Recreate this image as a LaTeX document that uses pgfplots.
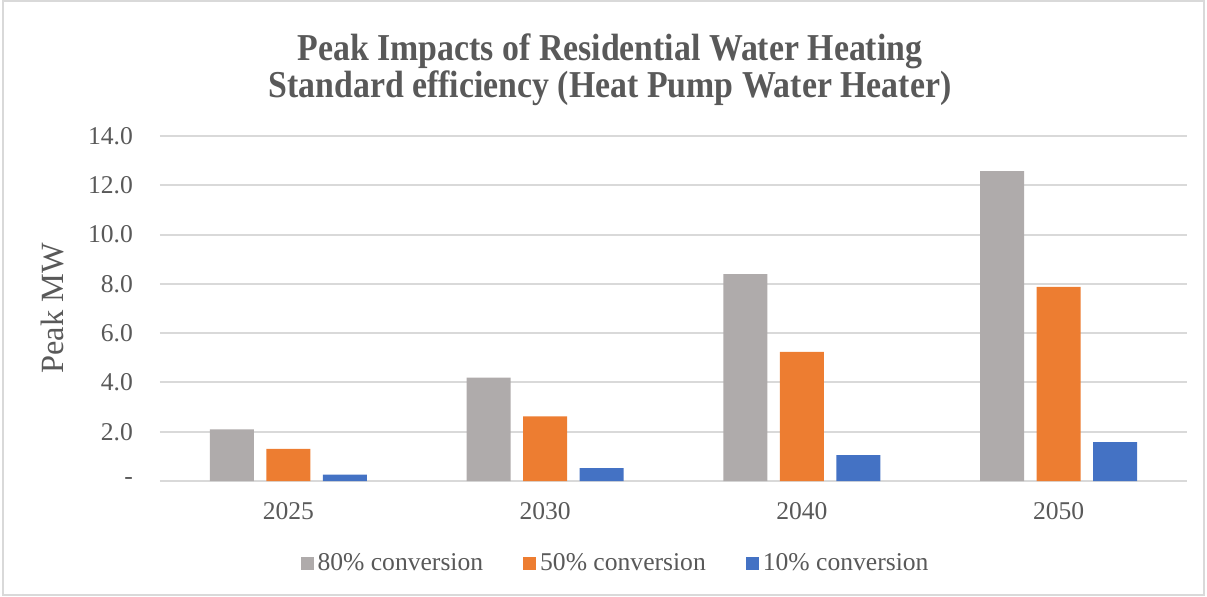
\documentclass[border=0pt]{standalone}
\usepackage{fontspec}
\setmainfont{Liberation Serif}
\newfontfamily\titlefont[FakeStretch=0.89]{Liberation Serif}
\usepackage{pgfplots}
\pgfplotsset{compat=1.18}

\definecolor{cgray}{HTML}{AFABAB}
\definecolor{corange}{HTML}{ED7D31}
\definecolor{cblue}{HTML}{4472C4}
\definecolor{ctext}{HTML}{595959}
\definecolor{cgrid}{HTML}{D9D9D9}

\begin{document}
\begin{tikzpicture}
\useasboundingbox (0pt,0pt) rectangle (603.5pt,298pt);
\draw[cgrid, line width=0.8pt] (1.5pt,0.5pt) rectangle (602pt,297.5pt);
\node[font=\titlefont\bfseries\fontsize{19}{18.5}\selectfont, text=ctext, align=center]
  at (305pt,263pt) {Peak Impacts of Residential Water Heating\\Standard efficiency (Heat Pump Water Heater)};

\begin{axis}[
    at={(80pt,57.5pt)}, anchor=south west,
    scale only axis,
    width=513.5pt, height=172.5pt,
    xmin=-0.5, xmax=3.5,
    ymin=0, ymax=14,
    ybar=6.25pt, bar width=22pt,
    axis line style={draw=none},
    major tick length=0pt,
    xtick={0,1,2,3},
    xticklabels={2025,2030,2040,2050},
    ytick={0,2,4,6,8,10,12,14},
    yticklabels={-,2.0,4.0,6.0,8.0,10.0,12.0,14.0},
    ymajorgrids,
    grid style={cgrid, line width=1pt},
    ticklabel style={font=\fontsize{12.8}{15}\selectfont, text=ctext},
    yticklabel style={xshift=-10pt},
    xticklabel style={yshift=-7pt},
    ylabel={Peak MW},
    every axis y label/.style={at={(axis description cs:-0.105,0.5)}, rotate=90, anchor=center,
        font=\fontsize{16.2}{18}\selectfont, text=ctext},
    legend columns=3,
    legend style={draw=none, at={(axis description cs:0.4445,-0.238)}, anchor=center,
        font=\fontsize{12.8}{15}\selectfont, text=ctext,
        /tikz/every even column/.append style={column sep=18pt}},
    legend image code/.code={\fill[#1] (0pt,-3.2pt) rectangle (6.5pt,3.2pt);},
]
\addplot[fill=cgray, draw=none] coordinates {(0,2.1) (1,4.2) (2,8.4) (3,12.57)};
\addplot[fill=corange, draw=none] coordinates {(0,1.3) (1,2.62) (2,5.24) (3,7.88)};
\addplot[fill=cblue, draw=none] coordinates {(0,0.26) (1,0.52) (2,1.05) (3,1.58)};
\addlegendentry{80\% conversion}
\addlegendentry{50\% conversion}
\addlegendentry{10\% conversion}
\end{axis}
\end{tikzpicture}
\end{document}
